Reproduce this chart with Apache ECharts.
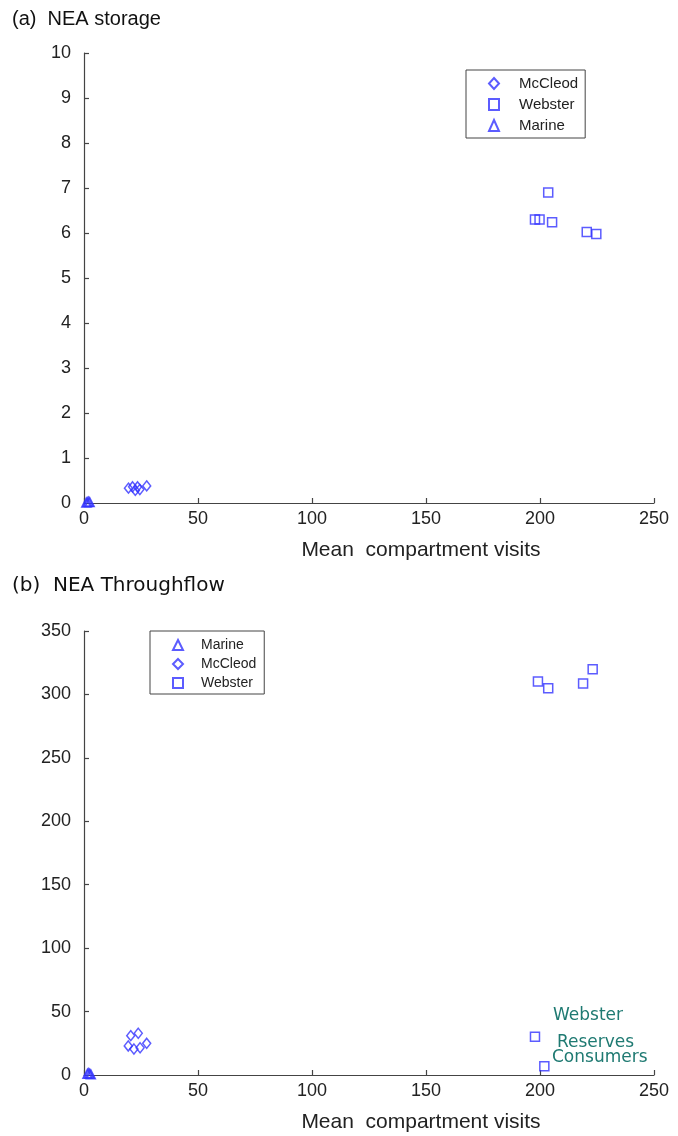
<!DOCTYPE html>
<html><head><meta charset="utf-8">
<script src="https://cdn.jsdelivr.net/npm/echarts@6/dist/echarts.min.js"></script>
<style>html,body{margin:0;padding:0;background:#fff}#c{width:678px;height:1136px}</style>
</head><body><div id="c"></div>
<script>
// ---- data ----
const xTicks = [0, 50, 100, 150, 200, 250];
const storageYTicks = [0,1,2,3,4,5,6,7,8,9,10];
const flowYTicks = [0,50,100,150,200,250,300,350];

// (a) NEA storage: [mean compartment visits, storage]
const storageMcCleod = [[19.5,0.33],[21.3,0.36],[22.5,0.28],[23.5,0.36],[24.5,0.30],[27.5,0.38]];
const storageWebster = [[203.6,6.90],[197.8,6.30],[199.8,6.30],[205.3,6.24],[220.5,6.02],[224.7,5.98]];
const storageMarine = [[1.0,0.01],[1.5,0.02],[2.0,0.03],[2.5,0.02]];

// (b) NEA Throughflow
const flowMarine = [[1.5,1],[2.0,1.5],[2.5,1],[3.0,0.5]];
const flowMcCleod = [[20.5,31.0],[23.8,32.9],[19.4,22.9],[21.9,20.5],[24.6,21.5],[27.5,25.0]];
const flowWebster = [[199.1,310.1],[203.6,304.8],[218.9,308.7],[223.1,319.8],[197.8,30.2],[201.9,6.9]];

const annotations = ['Webster', 'Reserves', 'Consumers'];

// ---- styles ----
const blue = '#3333ff';
const hollow = {color: 'rgba(255,255,255,0)', borderColor: blue, borderWidth: 1.5};
const sans = '"Liberation Sans", Arial, sans-serif';
const axisFont = {fontFamily: sans, fontSize: 18, color: '#222'};
const lineStyle = {color: '#444', width: 1.2};

function xAxis(gi) {
  return {
    gridIndex: gi, type: 'value', min: 0, max: 250, interval: 50,
    name: 'Mean  compartment visits', nameLocation: 'middle', nameGap: 37,
    nameTextStyle: {fontFamily: sans, fontSize: 21, color: '#222', padding: [0, 0, 0, 104]},
    axisLine: {show: true, onZero: false, lineStyle},
    axisTick: {show: true, inside: true, length: 5, lineStyle},
    axisLabel: Object.assign({margin: 7}, axisFont),
    splitLine: {show: false}
  };
}
function yAxis(gi, max, interval) {
  return {
    gridIndex: gi, type: 'value', min: 0, max: max, interval: interval,
    axisLine: {show: true, onZero: false, lineStyle},
    axisTick: {show: true, inside: true, length: 5, lineStyle},
    axisLabel: Object.assign({margin: 13}, axisFont),
    splitLine: {show: false}
  };
}
function sc(name, data, gi, symbol, size) {
  return {
    name, type: 'scatter', xAxisIndex: gi, yAxisIndex: gi, data,
    symbol, symbolSize: size, itemStyle: hollow, emphasis: {disabled: true}
  };
}

const chart = echarts.init(document.getElementById('c'), null, {renderer: 'canvas'});
chart.setOption({
  animation: false,
  backgroundColor: '#fff',
  grid: [
    {left: 84, top: 53, width: 570, height: 450},
    {left: 84, top: 631, width: 570, height: 444}
  ],
  xAxis: [xAxis(0), xAxis(1)],
  yAxis: [yAxis(0, 10, 1), yAxis(1, 350, 50)],
  legend: [
    {orient: 'vertical', left: 466, top: 70, itemGap: 4, itemWidth: 10, itemHeight: 11,
     padding: [5, 7, 4, 22], borderColor: '#444', borderWidth: 1, selectedMode: false,
     textStyle: {fontFamily: sans, fontSize: 15, color: '#222', lineHeight: 17, padding: [0, 0, 0, 15]},
     data: ['McCleod', 'Webster', 'Marine']},
    {orient: 'vertical', left: 150, top: 631, itemGap: 3, itemWidth: 10, itemHeight: 10,
     padding: [6, 8, 3, 22], borderColor: '#444', borderWidth: 1, selectedMode: false,
     textStyle: {fontFamily: sans, fontSize: 14, color: '#222', lineHeight: 16, padding: [0, 0, 0, 13]},
     data: ['Marine', 'McCleod', 'Webster']}
  ],
  series: [
    sc('McCleod', storageMcCleod, 0, 'diamond', [8, 10]),
    sc('Webster', storageWebster, 0, 'rect', 9),
    sc('Marine', storageMarine, 0, 'triangle', 9),
    sc('Marine', flowMarine, 1, 'triangle', 9),
    sc('McCleod', flowMcCleod, 1, 'diamond', [8, 10]),
    sc('Webster', flowWebster, 1, 'rect', 9)
  ],
  graphic: [
    {type: 'text', left: 12, top: 9, style: {text: '(a)  NEA storage', font: '20px "Liberation Sans", Arial, sans-serif', fill: '#111'}},
    {type: 'text', left: 12, top: 576, style: {text: '(b)  NEA Throughflow', font: '20px "DejaVu Sans", sans-serif', fill: '#111'}},
    {type: 'text', left: 553, top: 1007, style: {text: annotations[0], font: '17px "DejaVu Sans", sans-serif', fill: '#1f7a72'}},
    {type: 'text', left: 557, top: 1034, style: {text: annotations[1], font: '17px "DejaVu Sans", sans-serif', fill: '#1f7a72'}},
    {type: 'text', left: 552, top: 1049, style: {text: annotations[2], font: '17px "DejaVu Sans", sans-serif', fill: '#1f7a72'}}
  ]
});
</script></body></html>
